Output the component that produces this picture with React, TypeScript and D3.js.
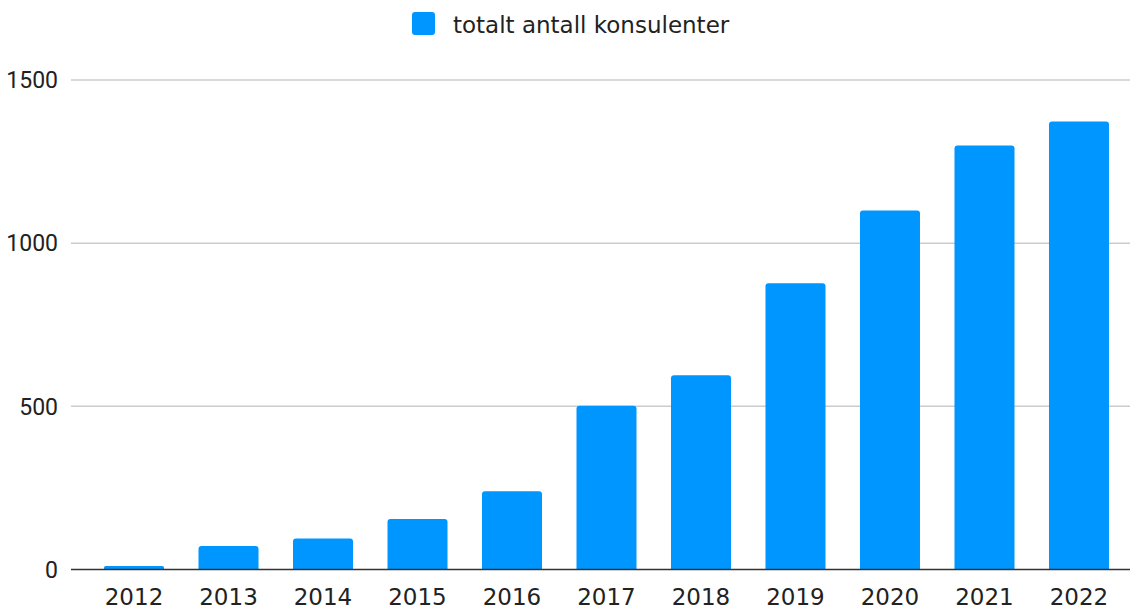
import { useEffect, useRef } from "react";
import * as d3 from "d3";

const years = ["2012", "2013", "2014", "2015", "2016", "2017", "2018", "2019", "2020", "2021", "2022"];
const consultants = [11, 72, 95, 155, 240, 502, 595, 877, 1100, 1299, 1373];
const yTicks = [0, 500, 1000, 1500];
const seriesName = "totalt antall konsulenter";

const W = 1130;
const H = 609;
const BAR = "#0096ff";

// top-rounded bar
function barPath(x: number, y: number, w: number, h: number, r: number) {
  const rr = Math.min(r, h / 2, w / 2);
  return `M${x},${y + h}V${y + rr}Q${x},${y} ${x + rr},${y}H${x + w - rr}Q${x + w},${y} ${x + w},${y + rr}V${y + h}Z`;
}

export default function App() {
  const ref = useRef<SVGSVGElement | null>(null);

  useEffect(() => {
    document.body.style.margin = "0";
    const svg = d3.select(ref.current);
    svg.selectAll("*").remove();

    const x = d3.scaleBand<string>().domain(years).range([87, 1126]).paddingInner(0.365).paddingOuter(0.18);
    const y = d3.scaleLinear().domain([0, 1500]).range([569.5, 80]);

    // grid
    svg
      .append("g")
      .selectAll("line")
      .data(yTicks.filter((d) => d > 0))
      .join("line")
      .attr("x1", 71)
      .attr("x2", W)
      .attr("y1", (d) => y(d))
      .attr("y2", (d) => y(d))
      .attr("stroke", "#cccccc")
      .attr("stroke-width", 1.5);

    // y labels
    svg
      .append("g")
      .selectAll("text")
      .data(yTicks)
      .join("text")
      .attr("x", 58)
      .attr("y", (d) => y(d))
      .attr("dy", "0.36em")
      .attr("text-anchor", "end")
      .attr("font-family", "Roboto, sans-serif")
      .attr("font-size", 23)
      .attr("fill", "#222")
      .text((d) => String(d));

    // bars
    svg
      .append("g")
      .selectAll("path")
      .data(consultants)
      .join("path")
      .attr("d", (d, i) => {
        const bx = x(years[i]) as number;
        const top = y(d);
        return barPath(bx, top, x.bandwidth(), y(0) - top, 3);
      })
      .attr("fill", BAR);

    // baseline
    svg
      .append("line")
      .attr("x1", 71)
      .attr("x2", W)
      .attr("y1", y(0))
      .attr("y2", y(0))
      .attr("stroke", "#333")
      .attr("stroke-width", 1.5);

    // x labels
    svg
      .append("g")
      .selectAll("text")
      .data(years)
      .join("text")
      .attr("x", (d) => (x(d) as number) + x.bandwidth() / 2)
      .attr("y", 605)
      .attr("text-anchor", "middle")
      .attr("font-family", "DejaVu Sans, sans-serif")
      .attr("font-size", 23)
      .attr("fill", "#222")
      .text((d) => d);

    // legend
    const lg = svg.append("g");
    lg.append("rect")
      .attr("x", 412)
      .attr("y", 12)
      .attr("width", 23)
      .attr("height", 23)
      .attr("rx", 3)
      .attr("fill", BAR);
    lg.append("text")
      .attr("x", 453)
      .attr("y", 33)
      .attr("font-family", "DejaVu Sans, sans-serif")
      .attr("font-size", 23)
      .attr("fill", "#222")
      .text(seriesName);
  }, []);

  return <svg ref={ref} width={W} height={H} style={{ display: "block" }} />;
}
